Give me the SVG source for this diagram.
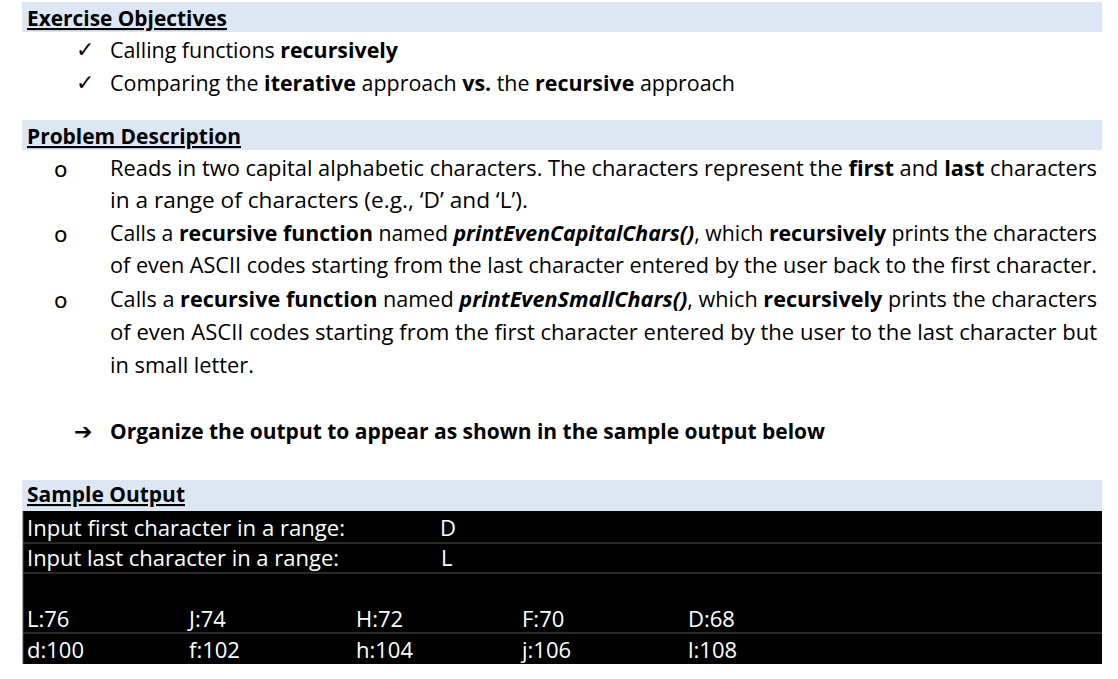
<svg xmlns="http://www.w3.org/2000/svg" width="1118" height="679" viewBox="0 0 1118 679">
<style>
text{font-family:"Open Sans","Liberation Sans",sans-serif;font-size:21px;fill:#000}
.h{font-weight:bold;text-decoration:underline}
.w{fill:#fff;font-size:22px}
.b{font-weight:bold}
.bar{fill:#dde7f3}
.sep{stroke:#555;stroke-width:1}
.mk{font-family:"DejaVu Sans",sans-serif;font-size:22px}
</style>
<rect width="1118" height="679" fill="#fff"/>
<rect class="bar" x="22" y="2" width="1080" height="30"/>
<text class="h" x="27" y="26" textLength="200" lengthAdjust="spacingAndGlyphs">Exercise Objectives</text>
<text class="mk" x="76" y="57">✓</text>
<text x="110" y="58" textLength="288" lengthAdjust="spacingAndGlyphs">Calling functions <tspan class="b">recursively</tspan></text>
<text class="mk" x="76" y="90">✓</text>
<text x="110" y="91" textLength="625" lengthAdjust="spacingAndGlyphs">Comparing the <tspan class="b">iterative</tspan> approach <tspan class="b">vs.</tspan> the <tspan class="b">recursive</tspan> approach</text>
<rect class="bar" x="22" y="120" width="1080" height="30"/>
<text class="h" x="27" y="144" textLength="214" lengthAdjust="spacingAndGlyphs">Problem Description</text>
<text class="mk" x="54" y="177">o</text>
<text x="110" y="176" textLength="987" lengthAdjust="spacingAndGlyphs">Reads in two capital alphabetic characters. The characters represent the <tspan class="b">first</tspan> and <tspan class="b">last</tspan> characters</text>
<text x="110" y="208" textLength="418" lengthAdjust="spacingAndGlyphs">in a range of characters (e.g., ‘D’ and ‘L’).</text>
<text class="mk" x="54" y="242">o</text>
<text x="110" y="241" textLength="987" lengthAdjust="spacingAndGlyphs">Calls a <tspan class="b">recursive function</tspan> named <tspan class="b" font-style="italic">printEvenCapitalChars()</tspan>, which <tspan class="b">recursively</tspan> prints the characters</text>
<text x="110" y="273" textLength="987" lengthAdjust="spacingAndGlyphs">of even ASCII codes starting from the last character entered by the user back to the first character.</text>
<text class="mk" x="54" y="308">o</text>
<text x="110" y="307" textLength="987" lengthAdjust="spacingAndGlyphs">Calls a <tspan class="b">recursive function</tspan> named <tspan class="b" font-style="italic">printEvenSmallChars()</tspan>, which <tspan class="b">recursively</tspan> prints the characters</text>
<text x="110" y="340" textLength="987" lengthAdjust="spacingAndGlyphs">of even ASCII codes starting from the first character entered by the user to the last character but</text>
<text x="110" y="373" textLength="144" lengthAdjust="spacingAndGlyphs">in small letter.</text>
<text class="mk b" x="74" y="439">➔</text>
<text class="b" x="110" y="439" textLength="715" lengthAdjust="spacingAndGlyphs">Organize the output to appear as shown in the sample output below</text>
<rect class="bar" x="22" y="480" width="1080" height="31"/>
<text class="h" x="27" y="502" textLength="158" lengthAdjust="spacingAndGlyphs">Sample Output</text>
<rect x="23" y="511" width="1079" height="153" fill="#000"/>
<g class="sep">
<line x1="23" y1="511" x2="23" y2="664"/>
<line x1="23" y1="543" x2="1102" y2="543"/>
<line x1="23" y1="573" x2="1102" y2="573"/>
<line x1="23" y1="633" x2="1102" y2="633"/>
</g>
<text class="w" x="27" y="536" textLength="318" lengthAdjust="spacingAndGlyphs">Input first character in a range:</text>
<text class="w" x="440" y="536">D</text>
<text class="w" x="27" y="566" textLength="312" lengthAdjust="spacingAndGlyphs">Input last character in a range:</text>
<text class="w" x="441" y="566">L</text>
<text class="w" x="27" y="627">L:76</text>
<text class="w" x="189" y="627">J:74</text>
<text class="w" x="356" y="627">H:72</text>
<text class="w" x="522" y="627">F:70</text>
<text class="w" x="688" y="627">D:68</text>
<text class="w" x="27" y="658">d:100</text>
<text class="w" x="189" y="658">f:102</text>
<text class="w" x="356" y="658">h:104</text>
<text class="w" x="522" y="658">j:106</text>
<text class="w" x="688" y="658">l:108</text>
</svg>
